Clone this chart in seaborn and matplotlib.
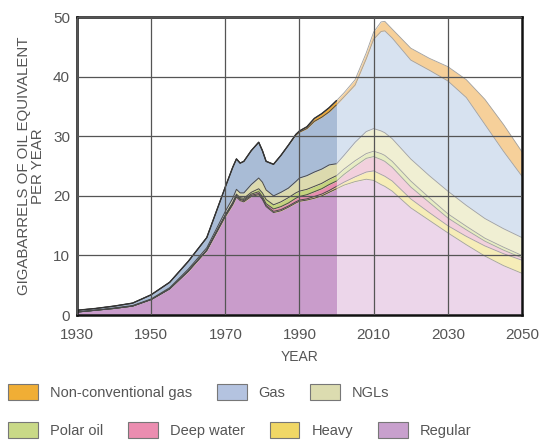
import matplotlib
matplotlib.use("Agg")
import matplotlib.pyplot as plt
import numpy as np
import seaborn as sns
from matplotlib.patches import Patch

# historical production (Gb oil equivalent / year), layer thickness
years_hist = [1930, 1935, 1940, 1945, 1950, 1955, 1960, 1965, 1970, 1972, 1973, 1974, 1975, 1977,
              1979, 1980, 1981, 1983, 1985, 1987, 1989, 1990, 1992, 1994, 1996, 1998, 2000]
regular_hist = [0.5, 0.8, 1.1, 1.5, 2.6, 4.4, 7.3, 10.8, 16.5, 18.5, 19.8, 19.2, 19.0, 19.9,
                20.2, 19.4, 18.2, 17.2, 17.5, 18.1, 18.8, 19.1, 19.3, 19.6, 20.0, 20.6, 21.2]
heavy_hist = [0, 0, 0, 0, 0, 0, 0.1, 0.1, 0.2, 0.2, 0.2, 0.2, 0.2, 0.2,
              0.2, 0.2, 0.2, 0.2, 0.2, 0.2, 0.2, 0.2, 0.2, 0.3, 0.3, 0.3, 0.4]
deep_hist = [0, 0, 0, 0, 0, 0, 0, 0, 0.1, 0.1, 0.1, 0.1, 0.2, 0.2,
             0.3, 0.3, 0.3, 0.4, 0.5, 0.5, 0.6, 0.6, 0.7, 0.8, 0.9, 1.0, 0.9]
polar_hist = [0, 0, 0, 0, 0, 0, 0, 0, 0, 0.1, 0.2, 0.2, 0.2, 0.3,
              0.5, 0.6, 0.7, 0.7, 0.8, 0.9, 0.9, 0.9, 0.9, 0.9, 0.9, 0.9, 0.9]
ngl_hist = [0, 0, 0.1, 0.1, 0.1, 0.2, 0.3, 0.4, 0.6, 0.7, 0.8, 0.8, 0.9, 1.3,
            1.8, 1.8, 1.6, 1.5, 1.6, 1.6, 1.9, 2.2, 2.3, 2.4, 2.4, 2.4, 2.0]
gas_hist = [0.3, 0.3, 0.3, 0.4, 0.7, 0.9, 1.3, 1.7, 4.1, 5.2, 5.1, 5.0, 5.3, 5.7,
            6.0, 5.3, 4.8, 5.3, 6.2, 7.2, 7.8, 7.7, 7.9, 8.5, 8.7, 8.9, 9.9]
nonconv_hist = [0, 0, 0, 0, 0, 0, 0, 0, 0, 0, 0, 0, 0, 0,
                0, 0, 0, 0, 0, 0, 0.1, 0.2, 0.3, 0.5, 0.6, 0.7, 0.7]

# forecast
years_fc = [2000, 2002, 2005, 2008, 2010, 2012, 2013, 2015, 2020, 2025, 2030, 2035, 2040, 2045, 2050]
regular_fc = [21.2, 21.8, 22.4, 22.8, 22.6, 21.9, 21.6, 20.8, 18.0, 15.9, 13.8, 11.8, 9.9, 8.3, 7.0]
heavy_fc = [0.4, 0.5, 0.8, 1.2, 1.6, 1.7, 1.7, 1.7, 1.5, 1.3, 1.2, 1.4, 1.7, 2.0, 2.2]
deep_fc = [0.9, 1.3, 1.8, 2.3, 2.4, 2.5, 2.5, 2.3, 2.0, 1.7, 1.3, 1.1, 0.8, 0.6, 0.4]
polar_fc = [0.9, 0.9, 0.9, 0.8, 0.9, 1.0, 1.0, 1.0, 1.0, 0.8, 0.7, 0.6, 0.5, 0.5, 0.4]
ngl_fc = [2.0, 2.3, 3.1, 3.7, 3.8, 3.8, 3.8, 3.8, 3.7, 3.7, 3.8, 3.5, 3.3, 3.1, 3.0]
gas_fc = [9.9, 9.8, 9.6, 12.2, 15.0, 16.7, 17.1, 16.9, 16.6, 17.7, 18.5, 18.1, 15.8, 13.0, 10.3]
nonconv_fc = [0.7, 0.7, 0.9, 1.0, 1.2, 1.6, 1.6, 1.5, 2.0, 2.0, 2.4, 3.0, 4.2, 4.5, 4.1]

names = ["Regular", "Heavy", "Deep water", "Polar oil", "NGLs", "Gas", "Non-conventional gas"]
colors_hist = ["#c99ccb", "#ecd56e", "#e88fb0", "#c5d47e", "#dcdaae", "#a9bcd6", "#f0aa35"]
colors_fc = ["#ecd6ea", "#f6edb8", "#f2d0dd", "#e7edc3", "#f0efd3", "#d7e2f0", "#f6d09a"]
colors_leg = ["#c8a0cd", "#f0d766", "#eb8db0", "#c9d987", "#dcdcb0", "#b4c3e0", "#f0ae35"]

sns.set_theme(style="white")
plt.rcParams["font.family"] = ["Liberation Sans", "DejaVu Sans"]

fig = plt.figure(figsize=(5.4, 4.4), dpi=100)
ax = fig.add_axes([0.1426, 0.284, 0.824, 0.677])

hist = [regular_hist, heavy_hist, deep_hist, polar_hist, ngl_hist, gas_hist, nonconv_hist]
fc = [regular_fc, heavy_fc, deep_fc, polar_fc, ngl_fc, gas_fc, nonconv_fc]

ax.stackplot(years_hist, *hist, colors=colors_hist, linewidth=0)
ax.stackplot(years_fc, *fc, colors=colors_fc, linewidth=0)

tops_h = np.cumsum(np.array(hist), axis=0)
tops_f = np.cumsum(np.array(fc), axis=0)
for i in range(len(names)):
    ax.plot(years_hist, tops_h[i], color="#4a4a4a", lw=0.7)
    ax.plot(years_fc, tops_f[i], color="#a0a0a0", lw=0.6)
ax.plot(years_hist, tops_h[-1], color="#333333", lw=1.0)

ax.set_xlim(1930, 2050)
ax.set_ylim(0, 50)
ax.set_xticks(range(1930, 2051, 20))
ax.set_yticks(range(0, 51, 10))
ax.grid(True, color="#555555", lw=0.9)
ax.set_axisbelow(False)
for s in ax.spines.values():
    s.set_color("#111111")
    s.set_linewidth(1.8)
ax.tick_params(length=0, labelsize=11, labelcolor="#555555")
ax.tick_params(axis="x", pad=9)
ax.tick_params(axis="y", pad=5)

ax.set_xlabel("YEAR", fontsize=10, color="#555555", labelpad=6)
ax.set_ylabel("GIGABARRELS OF OIL EQUIVALENT\nPER YEAR", fontsize=10.8, color="#555555",
              labelpad=6, linespacing=1.0)

def swatch(i):
    return Patch(facecolor=colors_leg[i], edgecolor="#777777", lw=0.8, label=names[i])

row1 = [swatch(6), swatch(5), swatch(4)]
row2 = [swatch(3), swatch(2), swatch(1), swatch(0)]
leg_kw = dict(frameon=False, fontsize=10.5, handlelength=2.05, handleheight=1.3,
              handletextpad=0.82, columnspacing=1.7, borderpad=0, borderaxespad=0,
              labelcolor="#555555", loc="center left")
fig.legend(handles=row1, ncol=3, bbox_to_anchor=(8 / 540, 1 - 392 / 440), **leg_kw)
fig.legend(handles=row2, ncol=4, bbox_to_anchor=(8 / 540, 1 - 430 / 440), **leg_kw)

fig.savefig("out.png", dpi=100)
